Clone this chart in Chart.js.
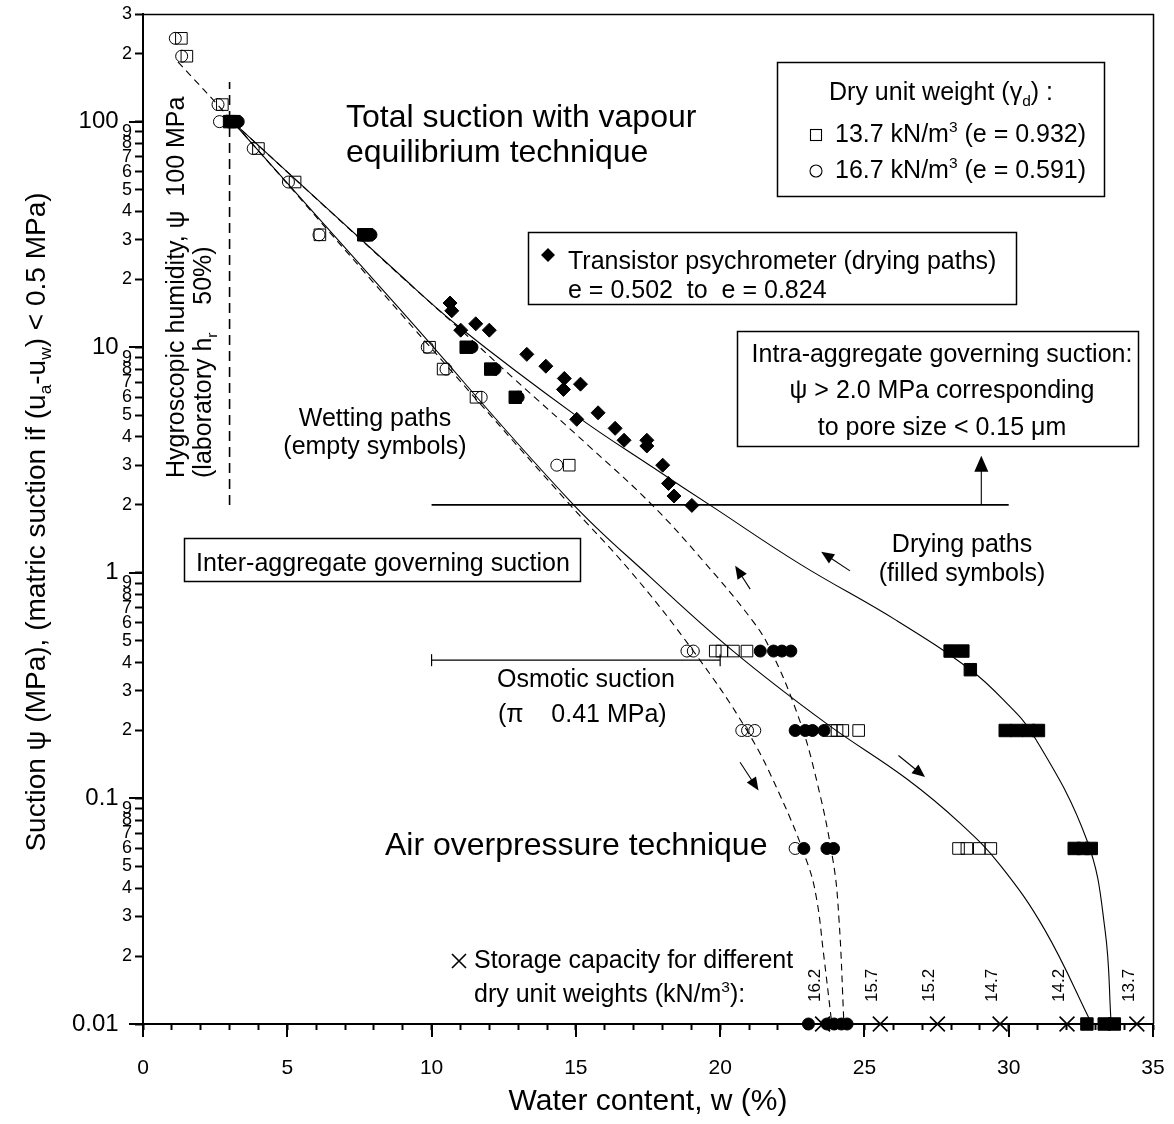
<!DOCTYPE html>
<html>
<head>
<meta charset="utf-8">
<script src="https://cdn.jsdelivr.net/npm/chart.js"></script>
<style>
html,body{margin:0;padding:0;background:#ffffff;}
#box{width:1174px;height:1124px;}
canvas{display:block;}
</style>
</head>
<body>
<div id="box"><canvas id="chart" width="1174" height="1124"></canvas></div>
<script>
const FONT = '"Liberation Sans", Arial, Helvetica, sans-serif';

// ---------- axes ----------
const xTickValues = [0,1,2,3,4,5,6,7,8,9,10,11,12,13,14,15,16,17,18,19,20,21,22,23,24,25,26,27,28,29,30,31,32,33,34,35];
const xMajorValues = [0,5,10,15,20,25,30,35];
const xTickLabels = ['0','','','','','5','','','','','10','','','','','15','','','','','20','','','','','25','','','','','30','','','','','35'];
const yTickValues = [0.01,0.02,0.03,0.04,0.05,0.06,0.07,0.08,0.09,
                     0.1,0.2,0.3,0.4,0.5,0.6,0.7,0.8,0.9,
                     1,2,3,4,5,6,7,8,9,
                     10,20,30,40,50,60,70,80,90,
                     100,200,300];
const yTickLabels = ['0.01','2','3','4','5','6','7','8','9',
                     '0.1','2','3','4','5','6','7','8','9',
                     '1','2','3','4','5','6','7','8','9',
                     '10','2','3','4','5','6','7','8','9',
                     '100','2','3'];
const yMajorValues = [0.01,0.1,1,10,100];

// ---------- measured points [w (%), suction (MPa)] ----------
const openSquares137 = [[1.33,234],[1.52,195],[2.75,119],[4.0,76],[5.27,54],[6.13,31.5],[9.93,10],[10.4,8],[11.54,6],[14.77,3],
  [19.83,0.45],[20.06,0.45],[20.46,0.45],[20.93,0.45],[23.85,0.2],[24.05,0.2],[24.25,0.2],[24.8,0.2],
  [28.26,0.06],[28.55,0.06],[28.98,0.06],[29.38,0.06]];
const openCircles167 = [[1.12,234],[1.34,195],[2.6,119],[2.65,100],[3.82,76],[5.04,54],[6.1,31.5],[9.85,10],[10.5,8],[11.72,6],[14.34,3],
  [18.85,0.45],[19.07,0.45],[20.75,0.2],[20.95,0.2],[21.2,0.2],[22.6,0.06]];
const filledSquares137 = [[3.0,100],[3.15,100],[7.65,31.5],[7.75,31.5],[11.2,10],[12.05,8],[12.9,6],
  [27.97,0.45],[28.41,0.45],[28.67,0.372],[29.88,0.2],[30.28,0.2],[30.69,0.2],[31.03,0.2],
  [32.27,0.06],[32.58,0.06],[32.86,0.06],[32.71,0.01],[33.31,0.01],[33.66,0.01]];
const filledCircles167 = [[3.3,100],[7.9,31.5],[11.4,10],[12.2,8],[13.0,6],
  [21.39,0.45],[21.85,0.45],[22.14,0.45],[22.45,0.45],[22.6,0.2],[22.95,0.2],[23.2,0.2],[23.6,0.2],
  [22.9,0.06],[23.7,0.06],[23.93,0.06],[23.06,0.01],[23.7,0.01],[23.95,0.01],[24.2,0.01],[24.4,0.01]];
const psychrometer = [[10.64,15.7],[10.7,14.5],[11.01,11.9],[11.53,12.7],[12.0,11.9],[13.3,9.3],[13.96,8.24],[14.6,7.27],
  [14.57,6.5],[15.16,6.86],[15.03,4.79],[15.77,5.12],[16.36,4.37],[16.67,3.87],[17.46,3.87],[17.46,3.65],
  [18.01,3.0],[18.21,2.49],[18.4,2.19],[19.02,1.99]];
const storageW = [23.55,25.55,27.53,29.7,32.02,34.44];
const storageSuction = [0.01,0.01,0.01,0.01,0.01,0.01];
const storageLabels = ['16.2','15.7','15.2','14.7','14.2','13.7'];

// ---------- fitted paths ----------
const dryingSolid137 = [[3.1,100],[8.91,20.9],[10.99,12.2],[15.03,4.95],[17.69,2.92],[19.77,1.95],[22.77,1.093],[26.12,0.614],[28.67,0.372],[29.81,0.274],[30.86,0.19],[32.71,0.0652],[33.34,0.026],[33.55,0.01]];
const wettingSolid137 = [[3.1,100],[8.91,14.7],[14.8,2.08],[17.57,0.96],[20.45,0.45],[23.7,0.214],[26.45,0.1225],[28.32,0.0775],[29.71,0.0505],[31.26,0.026],[32.88,0.01]];
const dryingDashed167 = [[3.1,100],[8.91,20.8],[10.99,12.0],[12.83,7.3],[15.49,3.61],[17.64,2.0],[19.41,1.13],[21.12,0.614],[21.77,0.449],[22.67,0.238],[23.26,0.133],[23.91,0.0532],[24.12,0.0289],[24.29,0.01]];
const wettingDashed167 = [[1.21,184],[3.02,103],[8.91,14.2],[14.68,2.08],[16.88,1.02],[19.07,0.45],[20.93,0.2],[22.08,0.103],[23.05,0.0506],[23.35,0.0354],[23.57,0.0212],[23.87,0.01]];

// ---------- reference lines and arrows ----------
const hygroscopicLine = [[3.0,2],[3.0,150]];
const intraLine = [[10,2],[30,2]];
const osmoticLine = [[10,0.41],[20,0.41]];
const arrowsFrom = [[21.04,0.847],[24.5,1.02],[20.69,0.1447],[26.18,0.155],[29.05,2]];
const arrowsTo   = [[20.52,1.074],[23.5,1.24],[21.33,0.1085],[27.1,0.1243],[29.05,3.3]];

const pt = a => a.map(p => ({x:p[0], y:p[1]}));

function markers(data, style, r, filled, bw){
  return {data: pt(data), showLine:false, clip:false, pointStyle:style, pointRadius:r, pointHoverRadius:r,
    pointBackgroundColor: filled ? '#000' : 'rgba(0,0,0,0)', pointBorderColor:'#000', pointBorderWidth:bw};
}
function path(data, dash, width, tension){
  return {data: pt(data), showLine:true, clip:false, pointRadius:0, pointHoverRadius:0, borderColor:'#000',
    borderWidth:width, borderDash:dash, fill:false, tension:tension};
}

const datasets = [
  markers(psychrometer, 'rectRot', 7, true, 1),
  markers(filledSquares137, 'rect', 8.8, true, 1),
  markers(filledCircles167, 'circle', 6, true, 1),
  markers(openSquares137, 'rect', 8.2, false, 1),
  markers(openCircles167, 'circle', 6, false, 1),
  markers(storageW.map((w,i)=>[w, storageSuction[i]]), 'crossRot', 10.5, false, 1.6),
  path(dryingSolid137, [], 1.1, 0.4),
  path(wettingSolid137, [], 1.1, 0.4),
  path(dryingDashed167, [7,5], 1.1, 0.4),
  path(wettingDashed167, [7,5], 1.1, 0.4),
  path(hygroscopicLine, [10,6], 1.6, 0),
  path(intraLine, [], 1.6, 0),
  Object.assign(path(osmoticLine, [], 1.2, 0), {pointStyle:'line', pointRotation:90, pointRadius:6, pointBorderWidth:1.2, pointBorderColor:'#000'})
];

// ---------- text helpers ----------
function rich(ctx, segs, x, y, size, align, rot){
  const parts = segs.map(s => typeof s === 'string' ? {t:s,k:0} : (s.sub !== undefined ? {t:s.sub,k:1} : {t:s.sup,k:2}));
  let total = 0;
  parts.forEach(p => { p.fs = p.k ? size*0.62 : size; ctx.font = p.fs + 'px ' + FONT; p.w = ctx.measureText(p.t).width; total += p.w; });
  ctx.save();
  ctx.translate(x, y);
  if (rot) ctx.rotate(rot);
  let cx = align === 'center' ? -total/2 : (align === 'right' ? -total : 0);
  ctx.textAlign = 'left'; ctx.textBaseline = 'alphabetic'; ctx.fillStyle = '#000';
  parts.forEach(p => {
    ctx.font = p.fs + 'px ' + FONT;
    const dy = p.k === 1 ? size*0.22 : (p.k === 2 ? -size*0.4 : 0);
    ctx.fillText(p.t, cx, dy);
    cx += p.w;
  });
  ctx.restore();
}
function arrow(ctx, x1, y1, x2, y2, len, half){
  const a = Math.atan2(y2-y1, x2-x1), c = Math.cos(a), s = Math.sin(a);
  ctx.beginPath(); ctx.moveTo(x1, y1); ctx.lineTo(x2 - c*len*0.8, y2 - s*len*0.8); ctx.stroke();
  ctx.beginPath(); ctx.moveTo(x2, y2);
  ctx.lineTo(x2 - len*c + half*s, y2 - len*s - half*c);
  ctx.lineTo(x2 - len*c - half*s, y2 - len*s + half*c);
  ctx.closePath(); ctx.fill();
}

const boxes = [
  {x:777, y:62, w:327, h:134},
  {x:528, y:232, w:488, h:72},
  {x:737, y:331, w:401, h:115},
  {x:184, y:538, w:396, h:43}
];
const texts = [
  {s:['Total suction with vapour'], x:346, y:127, size:32, a:'left'},
  {s:['equilibrium technique'], x:346, y:162, size:32, a:'left'},
  {s:['Dry unit weight (γ',{sub:'d'},') :'], x:941, y:100, size:25, a:'center'},
  {s:['13.7 kN/m',{sup:'3'},' (e = 0.932)'], x:835, y:142, size:25, a:'left'},
  {s:['16.7 kN/m',{sup:'3'},' (e = 0.591)'], x:835, y:178, size:25, a:'left'},
  {s:['Transistor psychrometer (drying paths)'], x:568, y:269, size:25, a:'left'},
  {s:['e = 0.502  to  e = 0.824'], x:568, y:298, size:25, a:'left'},
  {s:['Intra-aggregate governing suction:'], x:942, y:362, size:25, a:'center'},
  {s:['ψ > 2.0 MPa corresponding'], x:942, y:398, size:25, a:'center'},
  {s:['to pore size < 0.15 μm'], x:942, y:435, size:25, a:'center'},
  {s:['Inter-aggregate governing suction'], x:383, y:571, size:25, a:'center'},
  {s:['Wetting paths'], x:375, y:426, size:25, a:'center'},
  {s:['(empty symbols)'], x:375, y:454, size:25, a:'center'},
  {s:['Drying paths'], x:962, y:552, size:25, a:'center'},
  {s:['(filled symbols)'], x:962, y:581, size:25, a:'center'},
  {s:['Osmotic suction'], x:497, y:687, size:25, a:'left'},
  {s:['(π    0.41 MPa)'], x:498, y:722, size:25, a:'left'},
  {s:['Air overpressure technique'], x:385, y:855, size:32, a:'left'},
  {s:['Storage capacity for different'], x:474, y:968, size:25, a:'left'},
  {s:['dry unit weights (kN/m',{sup:'3'},'):'], x:474, y:1002, size:25, a:'left'},
  {s:['Hygroscopic humidity, ψ  100 MPa'], x:184, y:478, size:25, a:'left', r:-Math.PI/2},
  {s:['(laboratory h',{sub:'r'},'    50%)'], x:211, y:478, size:25, a:'left', r:-Math.PI/2},
  {s:['Suction ψ (MPa), (matric suction if (u',{sub:'a'},'-u',{sub:'w'},') < 0.5 MPa)'], x:45, y:522, size:28, a:'center', r:-Math.PI/2},
  {s:['Water content, w (%)'], x:648, y:1110, size:30, a:'center'}
];

const deco = {
  id:'deco',
  afterDraw(chart){
    const {ctx, chartArea:ca, scales} = chart;
    const X = v => scales.x.getPixelForValue(v), Y = v => scales.y.getPixelForValue(v);
    ctx.save();
    ctx.strokeStyle = '#000'; ctx.fillStyle = '#000';
    // top & right frame
    ctx.lineWidth = 1.5;
    ctx.beginPath(); ctx.moveTo(ca.left, ca.top + 0.5); ctx.lineTo(ca.right + 0.5, ca.top + 0.5); ctx.lineTo(ca.right + 0.5, ca.bottom); ctx.stroke();
    // longer major ticks
    ctx.lineWidth = 2;
    xMajorValues.forEach(v => { const p = Math.round(X(v)); ctx.beginPath(); ctx.moveTo(p, ca.bottom); ctx.lineTo(p, ca.bottom + 13); ctx.stroke(); });
    yMajorValues.forEach(v => { const p = Math.round(Y(v)); ctx.beginPath(); ctx.moveTo(ca.left, p); ctx.lineTo(ca.left - 14, p); ctx.stroke(); });
    // boxes
    ctx.lineWidth = 1.5;
    boxes.forEach(b => { ctx.fillStyle = '#fff'; ctx.fillRect(b.x, b.y, b.w, b.h); ctx.strokeRect(b.x + 0.5, b.y + 0.5, b.w, b.h); });
    ctx.fillStyle = '#000';
    // arrows
    ctx.lineWidth = 1.1;
    arrowsFrom.forEach((f, i) => {
      const t = arrowsTo[i];
      const big = i === arrowsFrom.length - 1;
      arrow(ctx, X(f[0]), Y(f[1]), X(t[0]), Y(t[1]), big ? 16 : 13, big ? 7 : 5.5);
    });
    // texts
    texts.forEach(t => rich(ctx, t.s, t.x, t.y, t.size, t.a, t.r || 0));
    // legend symbols
    ctx.lineWidth = 1.1;
    ctx.strokeRect(810.5, 129.5, 11, 11);
    ctx.beginPath(); ctx.arc(816, 171, 6, 0, Math.PI*2); ctx.stroke();
    // psychrometer diamond symbol
    ctx.beginPath(); ctx.moveTo(548, 248); ctx.lineTo(555, 255); ctx.lineTo(548, 262); ctx.lineTo(541, 255); ctx.closePath(); ctx.fill();
    // storage cross symbol
    ctx.lineWidth = 1.6;
    ctx.beginPath(); ctx.moveTo(452, 954); ctx.lineTo(466, 968); ctx.moveTo(466, 954); ctx.lineTo(452, 968); ctx.stroke();
    // storage labels
    storageW.forEach((w, i) => rich(ctx, [storageLabels[i]], X(w) - 3, 1002, 17, 'left', -Math.PI/2));
    ctx.restore();
  }
};

new Chart(document.getElementById('chart'), {
  type: 'scatter',
  data: {datasets},
  options: {
    responsive:false, animation:false, devicePixelRatio:1, events:[],
    layout:{padding:{left:0, right:21, top:14, bottom:0}},
    plugins:{legend:{display:false}, tooltip:{enabled:false}, title:{display:false}},
    scales:{
      x:{
        type:'linear', min:0, max:35, position:'bottom',
        afterBuildTicks: s => { s.ticks = xTickValues.map(v => ({value:v})); },
        afterFit: s => { s.height = 100; s.paddingLeft = 0; s.paddingRight = 0; },
        ticks:{autoSkip:false, maxRotation:0, minRotation:0, padding:26, color:'#000',
          font:{family:FONT, size:21}, callback:(v,i) => xTickLabels[i]},
        grid:{drawOnChartArea:false, drawTicks:true, tickLength:6, tickColor:'#000', tickWidth:2},
        border:{display:true, color:'#000', width:2}
      },
      y:{
        type:'logarithmic', min:0.01, max:300, position:'left',
        afterBuildTicks: s => { s.ticks = yTickValues.map(v => ({value:v})); },
        afterFit: s => { s.width = 143; },
        ticks:{autoSkip:false, padding:3, color:'#000',
          callback:(v,i) => yMajorValues.includes(yTickValues[i]) ? yTickLabels[i] + '\u00a0\u00a0' : yTickLabels[i],
          font: c => ({family:FONT, size:(c.tick && yMajorValues.includes(c.tick.value)) ? 24 : 18})},
        grid:{drawOnChartArea:false, drawTicks:true, tickLength:8, tickColor:'#000', tickWidth:2},
        border:{display:true, color:'#000', width:2}
      }
    }
  },
  plugins:[deco]
});
</script>
</body>
</html>
